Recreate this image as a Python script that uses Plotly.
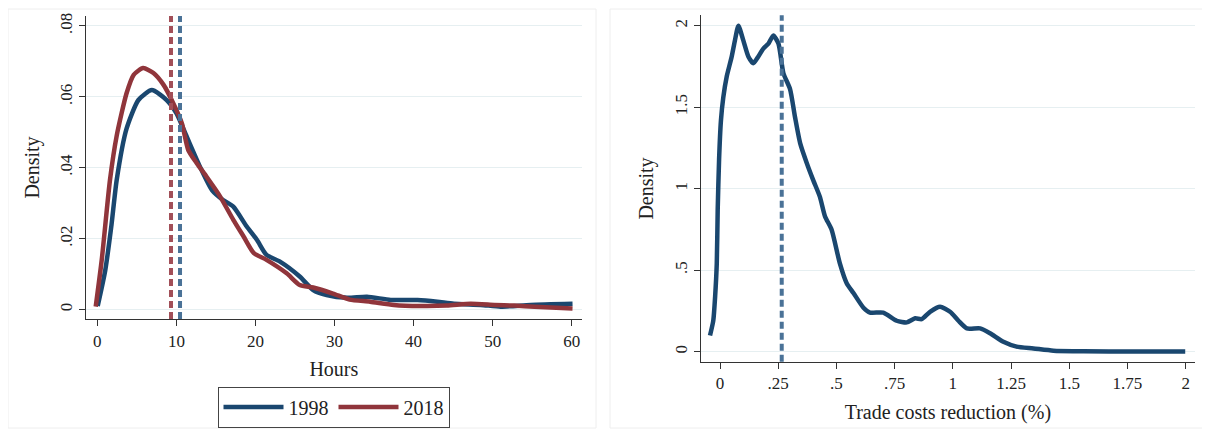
import plotly.graph_objects as go

# ---- Left panel: density of hours, 1998 vs 2018 ----
hours_1998 = [0.05, 1.0, 1.8, 2.45, 3.7, 5.2, 6.9, 8.77, 10.0, 11.3, 12.98, 14.5, 15.9, 17.2, 18.9, 20.2, 21.4,
              23.1, 25.6, 27.3, 29.0, 31.6, 34.1, 37.1, 40.5, 43.0, 45.1, 48.5, 51.0, 54.8, 60.1]
dens_1998 = [0.0010, 0.0110, 0.0240, 0.0365, 0.0510, 0.0591, 0.0619, 0.0591, 0.0554, 0.0488, 0.0403, 0.0337,
             0.0309, 0.0290, 0.0234, 0.0196, 0.0154, 0.0135, 0.0093, 0.0055, 0.0041, 0.0033, 0.0036, 0.0027,
             0.0027, 0.0022, 0.0016, 0.0013, 0.0008, 0.0013, 0.0016]

hours_2018 = [-0.2, 0.56, 1.6, 2.45, 3.7, 4.6, 5.8, 7.1, 8.4, 9.6, 10.7, 11.5, 12.6, 13.8, 15.5, 17.2, 18.5, 19.8,
              21.4, 23.95, 25.6, 27.3, 29.8, 31.9, 34.5, 37.5, 40.8, 44.2, 47.2, 50.2, 52.7, 55.3, 60.1]
dens_2018 = [0.0008, 0.0140, 0.0365, 0.0490, 0.0610, 0.0662, 0.0681, 0.0667, 0.0633, 0.0582, 0.0525, 0.0450,
             0.0412, 0.0375, 0.0320, 0.0253, 0.0206, 0.0159, 0.0140, 0.0102, 0.0069, 0.0062, 0.0045, 0.0028,
             0.0022, 0.0013, 0.0010, 0.0011, 0.0016, 0.0013, 0.0011, 0.0008, 0.0003]

mean_hours = {"1998": 10.46, "2018": 9.32}

left_xticks = [0, 10, 20, 30, 40, 50, 60]
left_yticks = [0, 0.02, 0.04, 0.06, 0.08]
left_ytext = ["0", ".02", ".04", ".06", ".08"]

# ---- Right panel: density of trade costs reduction ----
tcr_x = [-0.043, -0.029, -0.021, -0.014, -0.010, -0.004, 0.004, 0.014, 0.029, 0.050, 0.064, 0.079, 0.100,
         0.122, 0.143, 0.164, 0.186, 0.208, 0.229, 0.251, 0.272, 0.301, 0.322, 0.344, 0.372, 0.401, 0.429,
         0.451, 0.479, 0.515, 0.544, 0.573, 0.616, 0.644, 0.701, 0.759, 0.802, 0.838, 0.866, 0.902, 0.945,
         0.988, 1.024, 1.060, 1.117, 1.160, 1.217, 1.274, 1.346, 1.432, 1.561, 1.776, 1.998]
tcr_y = [0.10, 0.19, 0.34, 0.54, 0.87, 1.18, 1.42, 1.56, 1.69, 1.81, 1.91, 2.00, 1.91,
         1.81, 1.77, 1.81, 1.86, 1.89, 1.94, 1.89, 1.71, 1.61, 1.44, 1.28, 1.16, 1.05, 0.95,
         0.83, 0.75, 0.54, 0.42, 0.36, 0.27, 0.24, 0.24, 0.19, 0.18, 0.205, 0.20, 0.245, 0.276,
         0.245, 0.19, 0.143, 0.143, 0.113, 0.061, 0.031, 0.020, 0.006, 0.003, 0.001, 0.001]
mean_tcr = 0.265

right_xticks = [0, 0.25, 0.5, 0.75, 1, 1.25, 1.5, 1.75, 2]
right_xtext = ["0", ".25", ".5", ".75", "1", "1.25", "1.5", "1.75", "2"]
right_yticks = [0, 0.5, 1, 1.5, 2]
right_ytext = ["0", ".5", "1", "1.5", "2"]

BLUE = "#1a476f"
RED = "#90353b"
BLUE_D = "#4a7297"
RED_D = "#a24f58"
GRID = "#e6eff1"
FONT = "Liberation Serif"
W, H = 1210, 430
OX, OY = 8, 8  # page body offset of the plot div


def px_x(v):
    return (v - OX) / W


def px_y(v):
    return 1 - (v - OY) / H


fig = go.Figure()

fig.add_trace(go.Scatter(x=hours_1998, y=dens_1998, mode="lines", name="1998",
                         line=dict(color=BLUE, width=4.5, shape="spline", smoothing=0.6),
                         xaxis="x", yaxis="y"))
fig.add_trace(go.Scatter(x=hours_2018, y=dens_2018, mode="lines", name="2018",
                         line=dict(color=RED, width=4.5, shape="spline", smoothing=0.6),
                         xaxis="x", yaxis="y"))
fig.add_trace(go.Scatter(x=tcr_x, y=tcr_y, mode="lines", name="tcr", showlegend=False,
                         line=dict(color=BLUE, width=4.5, shape="spline", smoothing=0.6),
                         xaxis="x2", yaxis="y2"))

# dashed mean lines
fig.add_shape(type="line", xref="x", yref="y domain", x0=mean_hours["2018"], x1=mean_hours["2018"],
              y0=0, y1=1, line=dict(color=RED_D, width=4, dash="7px,4px"))
fig.add_shape(type="line", xref="x", yref="y domain", x0=mean_hours["1998"], x1=mean_hours["1998"],
              y0=0, y1=1, line=dict(color=BLUE_D, width=4, dash="7px,4px"))
fig.add_shape(type="line", xref="x2", yref="y2 domain", x0=mean_tcr, x1=mean_tcr,
              y0=0, y1=1, line=dict(color=BLUE_D, width=4, dash="7px,4px"))

# faint panel frames
fig.add_shape(type="rect", xref="paper", yref="paper", x0=px_x(8), x1=px_x(596), y0=px_y(428), y1=px_y(9),
              line=dict(color="#eeeeee", width=1), layer="below")
fig.add_shape(type="rect", xref="paper", yref="paper", x0=px_x(610), x1=px_x(1205), y0=px_y(428), y1=px_y(9),
              line=dict(color="#eeeeee", width=1), layer="below")

axis_common = dict(showline=True, linecolor="#333333", linewidth=1.2, ticks="outside", ticklen=6,
                   tickcolor="#333333", tickfont=dict(family=FONT, size=17, color="#222222"),
                   zeroline=False, mirror=False, automargin=False)

fig.update_layout(
    width=W, height=H,
    margin=dict(l=0, r=0, t=0, b=0, autoexpand=False),
    paper_bgcolor="white", plot_bgcolor="white",
    font=dict(family=FONT, color="#222222"),
    xaxis=dict(domain=[px_x(86), px_x(581.7)], range=[-1.43, 61.26], tickvals=left_xticks,
               showgrid=False, anchor="y",
               title=dict(text="Hours", font=dict(family=FONT, size=20), standoff=12),
               **axis_common),
    yaxis=dict(domain=[px_y(319), px_y(16)], range=[-0.00268, 0.0828], tickvals=left_yticks,
               ticktext=left_ytext, tickangle=-90, showgrid=True, gridcolor=GRID, gridwidth=1.2,
               anchor="x",
               title=dict(text="Density", font=dict(family=FONT, size=20), standoff=12),
               **axis_common),
    xaxis2=dict(domain=[px_x(700.7), px_x(1195)], range=[-0.083, 2.04], tickvals=right_xticks,
                ticktext=right_xtext, showgrid=False, anchor="y2",
                title=dict(text="Trade costs reduction (%)", font=dict(family=FONT, size=20), standoff=12),
                **axis_common),
    yaxis2=dict(domain=[px_y(361.7), px_y(15.3)], range=[-0.0613, 2.064], tickvals=right_yticks,
                ticktext=right_ytext, tickangle=-90, showgrid=True, gridcolor=GRID, gridwidth=1.2,
                anchor="x2",
                title=dict(text="Density", font=dict(family=FONT, size=20), standoff=12),
                **axis_common),
    legend=dict(orientation="h", x=px_x(333.5), y=px_y(407), xanchor="center", yanchor="middle",
                bordercolor="#444444", borderwidth=1, bgcolor="white",
                font=dict(family=FONT, size=20), itemwidth=60),
    showlegend=True,
)

fig.write_html("out.html")
